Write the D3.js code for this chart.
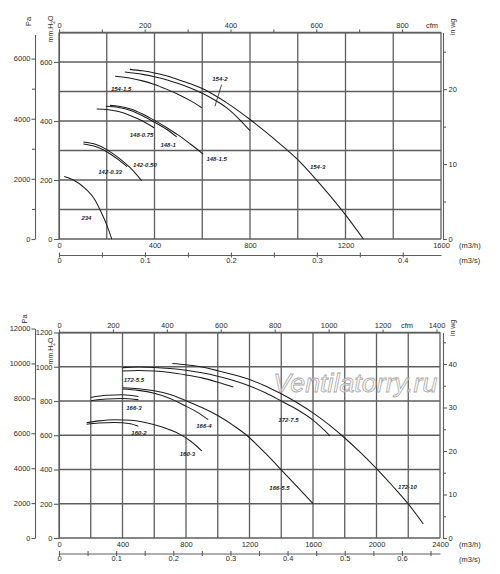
<!DOCTYPE html>
<html><head><meta charset="utf-8">
<script src="https://cdn.jsdelivr.net/npm/d3@7"></script>
<style>
html,body{margin:0;padding:0;background:#fff;}
svg{display:block;}
</style></head><body>
<svg id="c" width="500" height="574"></svg>
<script>
// ===== DATA: flow in m3/h, pressure in mm H2O =====
// --- upper chart ---
const c234     = [[22,212],[60,200],[100,178],[150,133],[180,85],[200,48],[221,0]];
const c142_033 = [[102,322],[150,314],[200,296],[250,268],[285,245]];
const c142_050 = [[102,329],[150,322],[200,303],[250,275],[300,240],[346,198]];
const c148_075 = [[158,441],[200,439],[250,432],[300,418],[350,400],[398,377]];
const c148_1   = [[196,450],[250,446],[300,436],[350,418],[400,396],[450,372],[493,346]];
const c148_15  = [[214,453],[250,450],[300,441],[350,424],[400,402],[450,378],[500,352],[550,322],[604,288]];
const c154_15  = [[235,552],[300,545],[350,536],[400,524],[450,508],[500,490],[550,469],[598,445]];
const c154_2   = [[276,566],[350,558],[400,550],[450,540],[500,527],[550,512],[600,494],[650,472],[700,446],[750,410],[800,367]];
const c154_3   = [[297,575],[350,570],[400,563],[450,553],[500,540],[550,526],[600,510],[650,488],[700,463],[750,435],[800,405],[900,340],[1000,269],[1100,180],[1200,82],[1275,0]];
const topCurves = [c234, c142_033, c142_050, c148_075, c148_1, c148_15, c154_15, c154_2, c154_3];
// label text, flow, pressure (anchor in data units)
const topLabels = [["234",115,71],["142-0.33",214,228],["142-0.50",360,251],["148-0.75",346,353],
  ["148-1",457,319],["148-1.5",660,272],["154-1.5",260,510],["154-2",674,544],["154-3",1083,245]];
const topLeader = [[681,523],[653,450]];
const topFlowLabels = [0,400,800,1200,1600];
const topMsTicks = [0,0.05,0.1,0.15,0.2,0.25,0.3,0.35,0.4];
const topMsLabels = [0,0.1,0.2,0.3,0.4];
const topCfmTicks = [0,100,200,300,400,500,600,700,800];
const topCfmLabels = [0,200,400,600,800];
const topMmLabels = [0,200,400,600];
const topPaLabels = [0,2000,4000,6000];
const topPaMinor = [1000,3000,5000];
const topInLabels = [0,10,20];
const topInMinor = [5,15,25];

// --- lower chart ---
const c160_2   = [[174,664],[250,672],[350,675],[450,667],[500,652]];
const c160_3   = [[174,673],[250,684],[350,691],[450,688],[550,673],[650,648],[762,605],[830,565],[899,509]];
const c166_3a  = [[200,821],[300,833],[400,836],[500,826]];
const c166_3b  = [[200,802],[300,812],[400,815],[500,808]];
const c166_4   = [[401,870],[500,862],[600,845],[700,815],[800,770],[870,735],[940,691]];
const c166_55  = [[401,877],[500,872],[600,860],[700,838],[804,800],[900,762],[1000,715],[1100,656],[1182,600],[1300,495],[1400,398],[1500,300],[1602,199]];
const c172_55  = [[401,975],[500,978],[600,975],[700,966],[800,952],[900,935],[1000,910],[1098,882]];
const c172_75  = [[401,995],[500,998],[600,996],[700,990],[800,980],[900,965],[1000,945],[1100,920],[1200,888],[1300,848],[1400,800],[1500,750],[1600,688],[1707,597]];
const c172_10  = [[714,1019],[800,1012],[900,998],[1000,977],[1100,953],[1200,925],[1300,888],[1400,842],[1500,790],[1600,731],[1700,662],[1800,584],[1900,498],[2000,405],[2100,305],[2200,199],[2295,82]];
const botCurves = [c160_2, c160_3, c166_3a, c166_3b, c166_4, c166_55, c172_55, c172_75, c172_10];
const botLabels = [["172-5.5",472,925],["166-3",472,763],["166-4",913,656],["160-2",504,615],
  ["160-3",809,489],["172-7.5",1446,691],["166-5.5",1389,293],["172-10",2195,297]];
const botFlowLabels = [0,400,800,1200,1600,2000,2400];
const botMsTicks = [0,0.05,0.1,0.15,0.2,0.25,0.3,0.35,0.4,0.45,0.5,0.55,0.6,0.65];
const botMsLabels = [0,0.1,0.2,0.3,0.4,0.5,0.6];
const botCfmTicks = [0,200,400,600,800,1000,1200,1400];
const botCfmLabels = [0,200,400,600,800,1000,1200,1400];
const botMmLabels = [0,200,400,600,800,1000,1200];
const botPaLabels = [0,2000,4000,6000,8000,10000,12000];
const botPaMinor = [];
const botInLabels = [0,10,20,30,40];
const botInMinor = [5,15,25,35,45];

// ===== DRAWING =====
const FONT = '"Liberation Sans", Arial, sans-serif';
const ink = "#2b2b2b", gridInk = "#5e5e5e";
const plain = d => String(d);
const svg = d3.select("#c").attr("font-family", FONT);

function styleAxis(s, fs) {
  s.attr("font-family", FONT).attr("font-size", fs);
  s.selectAll("path,line").attr("stroke", gridInk).attr("stroke-width", 1.1);
  s.selectAll("text").attr("fill", ink);
}

function panel(p) {
  const x = d3.scaleLinear(p.flow, p.xr);
  const y = d3.scaleLinear(p.press, p.yr);
  const xMs = d3.scaleLinear([0, p.flow[1] / 3600], p.xr);
  const xCfm = d3.scaleLinear([0, p.cfmMax], p.xr);
  const yPa = d3.scaleLinear([0, p.paMax], [y(0), y(p.paMax / 9.81)]);
  const yIn = d3.scaleLinear([0, p.press[1] / 25.4], p.yr);
  const g = svg.append("g");

  // grid
  const gx = d3.range(p.flow[0], p.flow[1] + 1e-6, p.flowGrid);
  const gy = d3.range(p.press[0], p.press[1] + 1e-6, p.pressGrid);
  g.append("g").selectAll("line").data(gx).join("line")
    .attr("x1", d => x(d)).attr("x2", d => x(d))
    .attr("y1", y(p.press[0])).attr("y2", y(p.press[1]))
    .attr("stroke", gridInk).attr("stroke-width", 1.3);
  g.append("g").selectAll("line").data(gy).join("line")
    .attr("y1", d => y(d)).attr("y2", d => y(d))
    .attr("x1", x(p.flow[0])).attr("x2", x(p.flow[1]))
    .attr("stroke", gridInk).attr("stroke-width", 1.3);

  // watermark
  if (p.watermark) {
    g.append("text").attr("x", x(p.watermark[1])).attr("y", y(p.watermark[2]))
      .attr("font-size", 26).attr("font-style", "italic").attr("font-family", FONT)
      .attr("textLength", 164).attr("lengthAdjust", "spacingAndGlyphs")
      .attr("fill", "#fff").attr("fill-opacity", 0.55)
      .attr("stroke", "#a9a9a9").attr("stroke-width", 0.8)
      .text(p.watermark[0]);
  }

  // left mm axis
  g.append("g").attr("transform", `translate(${x(0)},0)`)
    .call(d3.axisLeft(y).tickValues(p.mmLabels).tickFormat(plain).tickSize(5).tickPadding(1.5).tickSizeOuter(0))
    .call(s => styleAxis(s, 7.5));
  // Pa axis
  g.append("g").attr("transform", `translate(${p.paX},0)`)
    .call(d3.axisLeft(yPa).tickValues(p.paLabels).tickFormat(plain).tickSize(3.5).tickPadding(1).tickSizeOuter(0))
    .call(s => styleAxis(s, 7.5));
  if (p.paMinor.length) {
    g.append("g").attr("transform", `translate(${p.paX},0)`)
      .call(d3.axisLeft(yPa).tickValues(p.paMinor).tickSize(3).tickFormat("").tickSizeOuter(0))
      .call(s => { styleAxis(s, 7.5); s.select(".domain").remove(); });
  }
  // right in wg axis
  g.append("g").attr("transform", `translate(${p.inX},0)`)
    .call(d3.axisRight(yIn).tickValues(p.inLabels).tickFormat(plain).tickSize(4).tickPadding(1.5).tickSizeOuter(0))
    .call(s => styleAxis(s, 7.5));
  g.append("g").attr("transform", `translate(${p.inX},0)`)
    .call(d3.axisRight(yIn).tickValues(p.inMinor).tickSize(3).tickFormat("").tickSizeOuter(0))
    .call(s => { styleAxis(s, 7.5); s.select(".domain").remove(); });
  // top cfm axis
  g.append("g").attr("transform", `translate(0,${y(p.press[1])})`)
    .call(d3.axisTop(xCfm).tickValues(p.cfmTicks)
      .tickFormat(d => p.cfmLabels.includes(d) ? String(d) : "").tickSize(3).tickPadding(1.5).tickSizeOuter(0))
    .call(s => styleAxis(s, 7.5));
  g.append("text").attr("x", p.cfmTextX).attr("y", y(p.press[1]) - 4.5)
    .attr("font-size", 7.5).attr("fill", ink).attr("text-anchor", "middle").text("cfm");
  // bottom m3/h labels
  g.append("g").attr("transform", `translate(0,${y(0)})`)
    .call(d3.axisBottom(x).tickValues(p.flowLabels).tickFormat(plain).tickSize(0).tickPadding(3.8).tickSizeOuter(0))
    .call(s => { styleAxis(s, 7.5); s.select(".domain").remove(); });
  // m3/s axis
  g.append("g").attr("transform", `translate(0,${p.msY - 2.5})`)
    .call(d3.axisBottom(xMs).tickValues(p.msTicks).tickSize(5).tickFormat("").tickSizeOuter(0))
    .call(s => { styleAxis(s, 7.5); s.select(".domain").remove(); });
  g.append("g").attr("transform", `translate(0,${p.msY})`)
    .call(d3.axisBottom(xMs).tickValues(p.msLabels).tickFormat(plain).tickSize(0).tickPadding(2.5).tickSizeOuter(0))
    .call(s => styleAxis(s, 7.5));
  g.append("text").attr("x", 459).attr("y", y(0) + 9.3).attr("font-size", 7.5).attr("fill", ink).text("(m3/h)");
  g.append("text").attr("x", 459).attr("y", p.msY + 8).attr("font-size", 7.5).attr("fill", ink).text("(m3/s)");

  // rotated unit labels
  const mm = g.append("text").attr("transform", `translate(${p.mmPos[0]},${p.mmPos[1]}) rotate(-90)`)
    .attr("text-anchor", "middle").attr("font-size", 7).attr("fill", ink);
  mm.append("tspan").text("mm.H");
  mm.append("tspan").attr("font-size", 5).attr("dy", 1.5).text("2");
  mm.append("tspan").attr("dy", -1.5).text("O");
  g.append("text").attr("transform", `translate(${p.paPos[0]},${p.paPos[1]}) rotate(-90)`)
    .attr("text-anchor", "middle").attr("font-size", 7.5).attr("fill", ink).text("Pa");
  g.append("text").attr("transform", `translate(${p.inPos[0]},${p.inPos[1]}) rotate(-90)`)
    .attr("text-anchor", "middle").attr("font-size", 7).attr("fill", ink).text("in wg");

  // curves
  const line = d3.line().x(d => x(d[0])).y(d => y(d[1])).curve(d3.curveMonotoneX);
  g.append("g").selectAll("path").data(p.curves).join("path")
    .attr("d", line).attr("fill", "none").attr("stroke", "#1e1e1e").attr("stroke-width", 1.05);
  if (p.leader) {
    g.append("path").attr("d", d3.line().x(d => x(d[0])).y(d => y(d[1]))(p.leader))
      .attr("fill", "none").attr("stroke", "#1e1e1e").attr("stroke-width", 0.8);
  }
  // curve labels
  g.append("g").selectAll("text").data(p.labels).join("text")
    .attr("x", d => x(d[1])).attr("y", d => y(d[2]) + 2.2)
    .attr("text-anchor", "middle").attr("font-size", 6).attr("font-weight", "bold")
    .attr("font-style", "italic").attr("fill", "#1e1e1e").text(d => d[0]);
}

panel({
  flow: [0, 1600], press: [0, 700], xr: [59, 441], yr: [239, 32.5],
  flowGrid: 200, pressGrid: 100, cfmMax: 891, paMax: 6800,
  paX: 35, inX: 443, msY: 255, cfmTextX: 432,
  mmPos: [53, 29], paPos: [31, 21.5], inPos: [455, 27],
  mmLabels: topMmLabels, paLabels: topPaLabels, paMinor: topPaMinor,
  inLabels: topInLabels, inMinor: topInMinor,
  cfmTicks: topCfmTicks, cfmLabels: topCfmLabels,
  flowLabels: topFlowLabels, msTicks: topMsTicks, msLabels: topMsLabels,
  curves: topCurves, labels: topLabels, leader: topLeader
});

panel({
  flow: [0, 2400], press: [0, 1200], xr: [59, 440], yr: [538, 332.5],
  flowGrid: 200, pressGrid: 200, cfmMax: 1413, paMax: 12000,
  paX: 35, inX: 443, msY: 553.5, cfmTextX: 407,
  mmPos: [53, 351], paPos: [27, 319], inPos: [455, 328],
  mmLabels: botMmLabels, paLabels: botPaLabels, paMinor: botPaMinor,
  inLabels: botInLabels, inMinor: botInMinor,
  cfmTicks: botCfmTicks, cfmLabels: botCfmLabels,
  flowLabels: botFlowLabels, msTicks: botMsTicks, msLabels: botMsLabels,
  curves: botCurves, labels: botLabels, leader: null,
  watermark: ["Ventilatorry.ru", 1350, 850]
});
</script>
</body></html>
